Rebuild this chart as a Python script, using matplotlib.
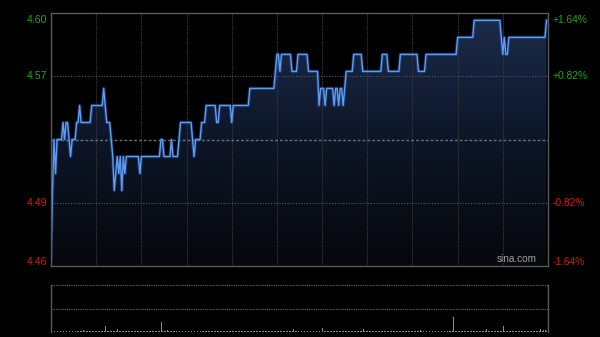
import numpy as np
import matplotlib
matplotlib.use("Agg")
import matplotlib.pyplot as plt
import matplotlib.transforms as mtransforms
from matplotlib.colors import LinearSegmentedColormap

# ---- data ----
prev_close = 4.53
price_levels = [4.46, 4.50, 4.53, 4.51, 4.53, 4.54, 4.53, 4.54, 4.53, 4.52,
                4.53, 4.54, 4.55, 4.54, 4.55, 4.56, 4.55, 4.54, 4.53, 4.52,
                4.50, 4.51, 4.52, 4.51, 4.52, 4.50, 4.52, 4.51, 4.52, 4.51,
                4.52, 4.53, 4.52, 4.53, 4.52, 4.53, 4.54, 4.53, 4.52, 4.53,
                4.54, 4.55, 4.54, 4.55, 4.54, 4.55, 4.56, 4.57, 4.58, 4.57,
                4.58, 4.57, 4.58, 4.57, 4.55, 4.56, 4.55, 4.56, 4.55, 4.56,
                4.55, 4.56, 4.55, 4.56, 4.57, 4.58, 4.57, 4.58, 4.57, 4.58,
                4.57, 4.58, 4.59, 4.60, 4.59, 4.58, 4.59, 4.58, 4.59, 4.60]
price_runs = [1, 1, 1, 1, 4, 1, 1, 2, 1, 1,
              3, 2, 1, 7, 8, 1, 1, 3, 1, 1,
              1, 1, 1, 1, 1, 1, 1, 1, 9, 1,
              13, 2, 5, 1, 4, 1, 8, 1, 1, 4,
              3, 7, 2, 8, 1, 11, 17, 1, 2, 1,
              7, 4, 7, 7, 1, 3, 1, 5, 1, 2,
              1, 2, 1, 1, 5, 6, 13, 4, 8, 12,
              5, 21, 11, 18, 1, 1, 1, 2, 25, 1]

volume = [11, 4, 3, 2, 3, 2, 2, 3, 2, 2, 3, 2, 2, 2, 3, 2, 2, 2, 2, 3, 2, 4, 2, 2, 3, 2, 2, 2, 3, 2,
          2, 2, 3, 2, 2, 3, 13, 3, 2, 2, 3, 2, 2, 3, 7, 3, 2, 2, 3, 2, 2, 2, 3, 2, 2, 2, 2, 3, 2, 2,
          2, 2, 3, 2, 2, 2, 3, 2, 2, 2, 2, 3, 2, 21, 3, 2, 2, 5, 2, 3, 2, 2, 3, 2, 2, 2, 3, 2, 2, 2,
          2, 3, 2, 2, 2, 2, 3, 2, 2, 2, 3, 2, 2, 2, 2, 3, 2, 2, 2, 3, 2, 2, 2, 2, 3, 2, 2, 2, 2, 3,
          2, 2, 2, 3, 2, 2, 2, 2, 3, 2, 2, 2, 3, 2, 2, 2, 2, 3, 2, 2, 2, 2, 3, 2, 2, 2, 2, 3, 2, 2,
          2, 2, 3, 2, 2, 2, 2, 3, 2, 2, 2, 6, 2, 2, 3, 2, 2, 2, 2, 3, 2, 2, 2, 2, 3, 2, 2, 2, 2, 3,
          8, 2, 2, 3, 2, 2, 2, 2, 3, 2, 2, 2, 2, 3, 2, 2, 2, 2, 3, 2, 2, 2, 2, 3, 2, 2, 2, 7, 2, 2,
          3, 2, 2, 2, 2, 3, 2, 2, 2, 2, 3, 2, 2, 2, 2, 3, 2, 2, 2, 2, 3, 2, 2, 2, 2, 3, 2, 2, 2, 2,
          3, 2, 2, 2, 2, 5, 2, 2, 2, 3, 2, 2, 2, 2, 3, 2, 2, 2, 2, 3, 2, 2, 2, 2, 3, 2, 2, 32, 3, 2,
          2, 2, 3, 2, 2, 2, 2, 3, 2, 2, 2, 2, 3, 2, 2, 2, 2, 3, 2, 6, 2, 2, 3, 2, 2, 2, 2, 3, 2, 2,
          13, 3, 2, 2, 2, 3, 2, 2, 2, 2, 3, 2, 2, 2, 2, 3, 2, 2, 2, 2, 3, 2, 2, 3, 2, 6, 3, 5, 4, 3]

left_labels = ["4.60", "4.57", "4.49", "4.46"]
right_labels = ["+1.64%", "+0.82%", "-0.82%", "-1.64%"]
pct_steps = [1.64, 0.82, -0.82, -1.64]
total_minutes = 330
grid_minutes = list(range(30, 330, 30))

price = np.repeat(price_levels, price_runs)
minutes = np.arange(len(price))

ylo = prev_close * (1 - 0.0164)
yhi = prev_close * (1 + 0.0164)

green = "#1aa81a"
red = "#d41a08"
bg = "#000000"

fig = plt.figure(figsize=(6.0, 3.37), dpi=100, facecolor=bg)
ax = fig.add_axes([51 / 600, (337 - 266) / 337, 497 / 600, 253 / 337], facecolor=bg)
axv = fig.add_axes([51 / 600, (337 - 332) / 337, 497 / 600, 47 / 337], facecolor=bg)

# ---- main price panel ----
ax.set_xlim(0, total_minutes)
ax.set_ylim(ylo, yhi)

for m in grid_minutes:
    ax.axvline(m, color="#3c3c3c", lw=0.8, ls=(0, (1, 1)), zorder=2)
for p in [0.82, -0.82]:
    ax.axhline(prev_close * (1 + p / 100), color="#585858", lw=0.8, ls=(0, (1, 1.5)), zorder=2)
ax.axhline(prev_close, color="#6e6e6e", lw=1.0, ls=(0, (2, 1.5)), zorder=2)

poly = ax.fill_between(minutes, price, ylo, color="none", lw=0)
cmap = LinearSegmentedColormap.from_list("g", ["#05070b", "#0d1628", "#1c2c4c"])
grad = np.linspace(0, 1, 256).reshape(-1, 1)
im = ax.imshow(grad, extent=[0, total_minutes, ylo, yhi], aspect="auto",
               origin="lower", cmap=cmap, zorder=1, interpolation="bilinear")
im.set_clip_path(poly.get_paths()[0], transform=ax.transData)

ax.plot(minutes, price, color="#2a5cb0", lw=2.4, alpha=0.45, zorder=3,
        solid_joinstyle="round")
ax.plot(minutes, price, color="#5f9cf2", lw=1.0, zorder=4, solid_joinstyle="round")

for s in ax.spines.values():
    s.set_color("#5a5a5a")
    s.set_linewidth(1.0)
    s.set_zorder(5)
ax.set_xticks([])
ax.set_yticks([])

ytrans = ax.get_yaxis_transform()
for lab, rlab, p in zip(left_labels, right_labels, pct_steps):
    yv = prev_close * (1 + p / 100)
    col = green if p > 0 else red
    va = "center"
    dy = 0
    if p == pct_steps[0]:
        va = "top"
        dy = -2
    elif p == pct_steps[-1]:
        va = "bottom"
        dy = -1
    tr = mtransforms.offset_copy(ytrans, fig=fig, x=0, y=dy, units="dots")
    ax.text(-0.007, yv, lab, transform=tr, ha="right", va=va, color=col,
            fontsize=7.6, family="Liberation Sans")
    ax.text(1.009, yv, rlab, transform=tr, ha="left", va=va, color=col,
            fontsize=7.4, family="Liberation Sans")

ax.text(0.978, 0.008, "sina.com", transform=ax.transAxes, ha="right", va="bottom",
        color="#a0a0a0", fontsize=7.2, family="Liberation Sans", zorder=6)

# ---- volume panel ----
axv.set_xlim(0, total_minutes)
axv.set_ylim(0, 100)
axv.bar(np.arange(len(volume)), volume, width=0.6, color="#8c8c8c", lw=0, align="edge")
for yv in [100, 50]:
    axv.axhline(yv, color="#6a6a6a", lw=0.8, ls=(0, (1, 1)), zorder=0.5, clip_on=False)
axv.spines["top"].set_visible(False)
axv.spines["bottom"].set_visible(False)
for side in ["left", "right"]:
    axv.spines[side].set_color("#5a5a5a")
    axv.spines[side].set_linewidth(1.0)
axv.set_xticks([])
axv.set_yticks([])

fig.savefig("out.png", dpi=100, facecolor=bg)
